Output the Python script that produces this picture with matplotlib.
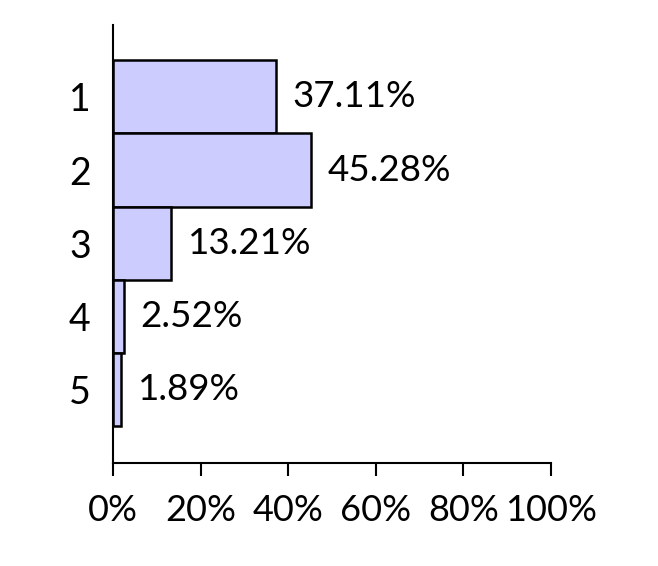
import matplotlib
matplotlib.use("Agg")
import matplotlib.pyplot as plt
from matplotlib.ticker import FuncFormatter

categories = ["1", "2", "3", "4", "5"]
shares = [37.11, 45.28, 13.21, 2.52, 1.89]
ticks = [0, 20, 40, 60, 80, 100]

plt.rcParams['font.family'] = ['Lato', 'DejaVu Sans']

fig = plt.figure(figsize=(6.58, 5.66), dpi=100)
ax = fig.add_axes([0.1717, 0.182, 0.6657, 0.7738])

pos = list(range(1, len(categories) + 1))
ax.barh(pos, shares, height=1.0, color="#ccccff", edgecolor="black", linewidth=1.8)

for p, v in zip(pos, shares):
    ax.text(v + 3.8, p, "%.2f%%" % v, va="center", ha="left", fontsize=26.5)

ax.set_xlim(0, 100)
ax.set_ylim(6, 0.02)
ax.set_xticks(ticks)
ax.xaxis.set_major_formatter(FuncFormatter(lambda x, _: "%d%%" % x))
ax.set_yticks(pos)
ax.set_yticklabels(categories)

for s in ["top", "right"]:
    ax.spines[s].set_visible(False)
ax.spines["left"].set_linewidth(1.5)
ax.spines["bottom"].set_linewidth(1.5)

ax.tick_params(axis="x", length=9, width=1.5, labelsize=26, pad=13)
ax.tick_params(axis="y", length=0, labelsize=27, pad=16)

fig.savefig("out.png", dpi=100)
